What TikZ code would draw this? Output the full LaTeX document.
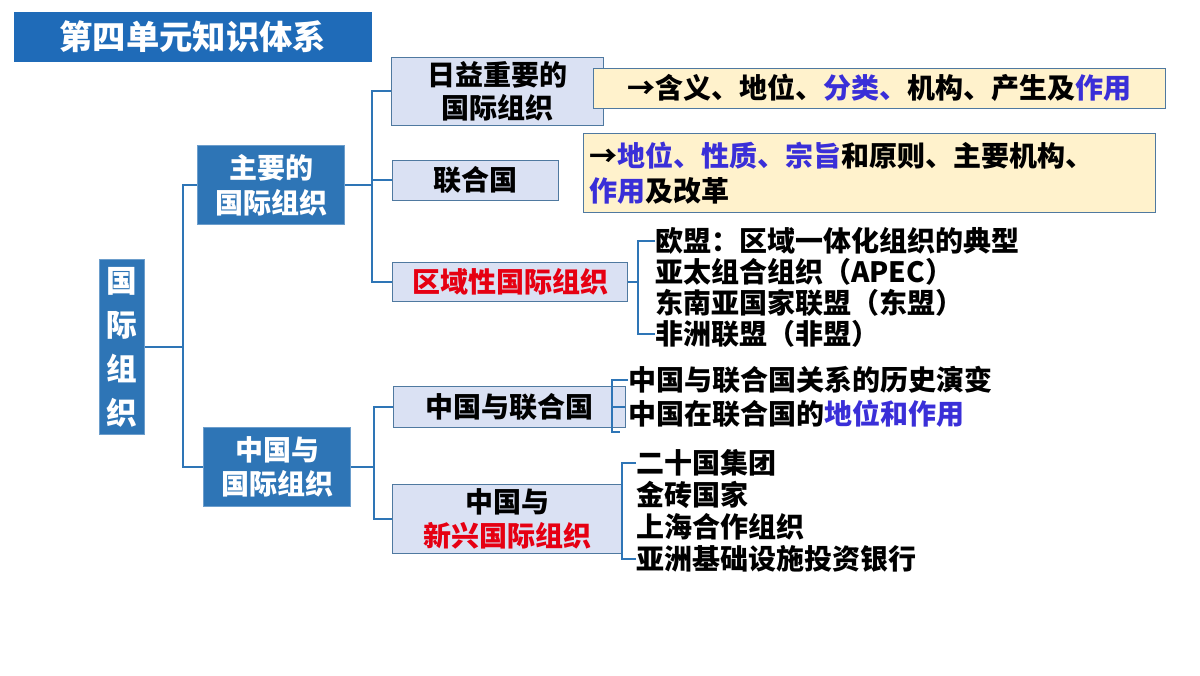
\documentclass[tikz,border=0pt]{standalone}
\usepackage{fontspec}
\setmainfont{Noto Sans CJK SC}
\usepackage{tikz}
\usetikzlibrary{positioning}
\definecolor{Cblue}{HTML}{2E75B6}
\definecolor{Cdark}{HTML}{1F6BB8}
\definecolor{Clav}{HTML}{DAE1F3}
\definecolor{Cyel}{HTML}{FFF2CC}
\definecolor{Cpur}{HTML}{3A2FD8}
\definecolor{Cred}{HTML}{E60012}
\tikzstyle{bigbox} = [fill=Cblue, draw=Cblue!70!white, text=white, align=center, font=\bfseries\fontsize{21}{26}\selectfont, inner sep=0pt]
\tikzstyle{subbox} = [fill=Clav, draw=Cblue!60!gray, align=center, font=\bfseries\fontsize{21}{25}\selectfont, inner sep=0pt]
\tikzstyle{notebox} = [fill=Cyel, draw=Cblue!60!gray, align=left, font=\bfseries\fontsize{21}{26}\selectfont, inner sep=0pt]
\tikzstyle{item} = [anchor=west, font=\bfseries\fontsize{21}{24}\selectfont, inner sep=0pt]
\tikzstyle{brace} = [draw=Cblue, line width=1.6pt]

\begin{document}
\begin{tikzpicture}[x=0.75pt, y=-0.75pt]
	\useasboundingbox (0,0) rectangle (1200,675);
	\fill[white] (0,0) rectangle (1200,675);
	
	% title
	\node[fill=Cdark, text=white, minimum width=358*0.75pt, minimum height=50*0.75pt, font=\bfseries\fontsize{25}{28}\selectfont, inner sep=0pt] (title) at (193,37) {第四单元知识体系\hspace{1em}};
	
	% main boxes
	\node[bigbox, minimum width=45*0.75pt, minimum height=175*0.75pt, font=\bfseries\fontsize{23}{33}\selectfont] (root) at (122,347) {国\\际\\组\\织};
	\node[bigbox, minimum width=147*0.75pt, minimum height=79*0.75pt] (major) at (271,185) {主要的\\国际组织};
	\node[bigbox, minimum width=147*0.75pt, minimum height=79*0.75pt] (china) at (277,467) {中国与\\国际组织};
	
	\node[subbox, minimum width=212*0.75pt, minimum height=68*0.75pt] (rise) at (497,91) {日益重要的\\国际组织};
	\node[subbox, minimum width=166*0.75pt, minimum height=40*0.75pt] (un) at (475,180) {联合国};
	\node[subbox, minimum width=235*0.75pt, minimum height=39*0.75pt, text=Cred] (region) at (510,282) {区域性国际组织};
	\node[subbox, minimum width=232*0.75pt, minimum height=41*0.75pt] (chun) at (509,407) {中国与联合国};
	\node[subbox, minimum width=229*0.75pt, minimum height=69*0.75pt] (chnew) at (507,519) {中国与\\\textcolor{Cred}{新兴国际组织}};
	
	\node[notebox, minimum width=572*0.75pt, minimum height=40*0.75pt, align=center] (note1) at (879,88) {→含义、地位、\textcolor{Cpur}{分类、}机构、产生及\textcolor{Cpur}{作用}};
	\node[notebox, minimum width=572*0.75pt, minimum height=79*0.75pt, text width=560*0.75pt] (note2) at (869,173) {→\textcolor{Cpur}{地位、性质、宗旨}和原则、主要机构、\\\textcolor{Cpur}{作用}及改革};
	
	% lists
	\foreach \t [count=\i] in {欧盟：区域一体化组织的典型, 亚太组合组织（APEC）, 东南亚国家联盟（东盟）, 非洲联盟（非盟）}
		\node[item] (R\i) at (655, {210+31*\i}) {\t};
	\node[item] (U1) at (628,380) {中国与联合国关系的历史演变};
	\node[item] (U2) at (628,414) {中国在联合国的\textcolor{Cpur}{地位和作用}};
	\foreach \t [count=\i] in {二十国集团, 金砖国家, 上海合作组织, 亚洲基础设施投资银行}
		\node[item] (N\i) at (636, {431+32*\i}) {\t};
	
	% braces
	\draw[brace] (root.east) -- (183,347);
	\draw[brace] (major.west) -- (183,185) |- (china.west);
	\draw[brace] (major.east) -- (372,185);
	\draw[brace] (rise.west) -- (372,91) |- (region.west);
	\draw[brace] (un.west) -- (372,180);
	\draw[brace] (china.east) -- (374,467);
	\draw[brace] (chun.west) -- (374,407) |- (chnew.west);
	\draw[brace] (region.east) -- (638,282);
	\draw[brace] (R1.west) -- (638,241) |- (R4.west);
	\draw[brace] (chun.east) -- (612,407);
	\draw[brace] (U1.west) -- (612,380) -- (612,432) -- ++(8,0);
	\draw[brace] (chnew.east) -- (622,519);
	\draw[brace] (N1.west) -- (622,463) |- (N4.west);
\end{tikzpicture}
\end{document}
